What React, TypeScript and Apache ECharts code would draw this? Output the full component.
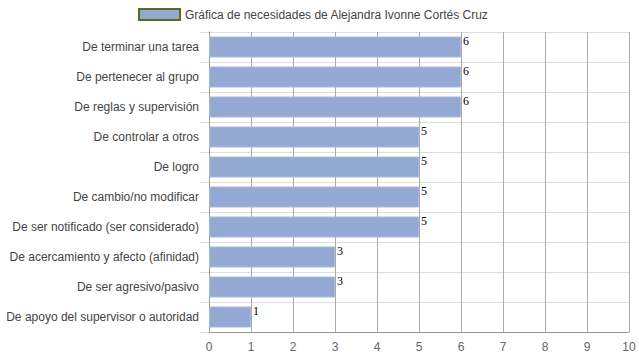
import React, { useEffect, useRef } from "react";
import * as echarts from "echarts";

const categories = [
  "De terminar una tarea",
  "De pertenecer al grupo",
  "De reglas y supervisión",
  "De controlar a otros",
  "De logro",
  "De cambio/no modificar",
  "De ser notificado (ser considerado)",
  "De acercamiento y afecto (afinidad)",
  "De ser agresivo/pasivo",
  "De apoyo del supervisor o autoridad",
];
const values = [6, 6, 6, 5, 5, 5, 5, 3, 3, 1];
const seriesName = "Gráfica de necesidades de Alejandra Ivonne Cortés Cruz";

export default function App() {
  const ref = useRef<HTMLDivElement>(null);
  useEffect(() => {
    const chart = echarts.init(ref.current!, null, { renderer: "svg" });
    chart.setOption({
      animation: false,
      legend: {
        top: 3,
        left: 133,
        itemWidth: 41,
        itemHeight: 11,
        itemGap: 6,
        textStyle: { fontFamily: "Arial, Liberation Sans", fontSize: 12, color: "#444" },
        data: [
          {
            name: seriesName,
            icon: "rect",
            itemStyle: { color: "#94a8d4", borderColor: "#5e6b1e", borderWidth: 2 },
          },
        ],
      },
      grid: { left: 209, right: 10, top: 32, bottom: 28, containLabel: false },
      xAxis: {
        type: "value",
        min: 0,
        max: 10,
        interval: 1,
        axisLine: { show: true, lineStyle: { color: "#999" } },
        axisTick: { show: false },
        axisLabel: {
          color: "#666",
          fontFamily: "Arial, Liberation Sans",
          fontSize: 12,
          margin: 9,
        },
        splitLine: { show: true, lineStyle: { color: "#aaa", width: 1 } },
      },
      yAxis: {
        type: "category",
        data: categories,
        inverse: true,
        axisLine: { show: true, lineStyle: { color: "#999" } },
        axisTick: { show: true, length: 9, lineStyle: { color: "#ddd" } },
        axisLabel: {
          color: "#444",
          fontFamily: "Arial, Liberation Sans",
          fontSize: 12,
          margin: 10,
        },
        splitLine: { show: true, lineStyle: { color: "#ddd" } },
      },
      series: [
        {
          name: seriesName,
          type: "bar",
          data: values,
          barCategoryGap: "30%",
          itemStyle: { color: "#94a8d4", borderColor: "#a9b9dd", borderWidth: 1 },
          label: {
            show: true,
            position: ["100%", 0],
            offset: [2, -2],
            align: "left",
            verticalAlign: "top",
            fontFamily: "Times New Roman, Liberation Serif, serif",
            fontSize: 12,
            color: "#000",
          },
        },
      ],
    });
    return () => chart.dispose();
  }, []);
  return <div ref={ref} style={{ width: 639, height: 360, position: "absolute", left: 0, top: 0 }} />;
}
